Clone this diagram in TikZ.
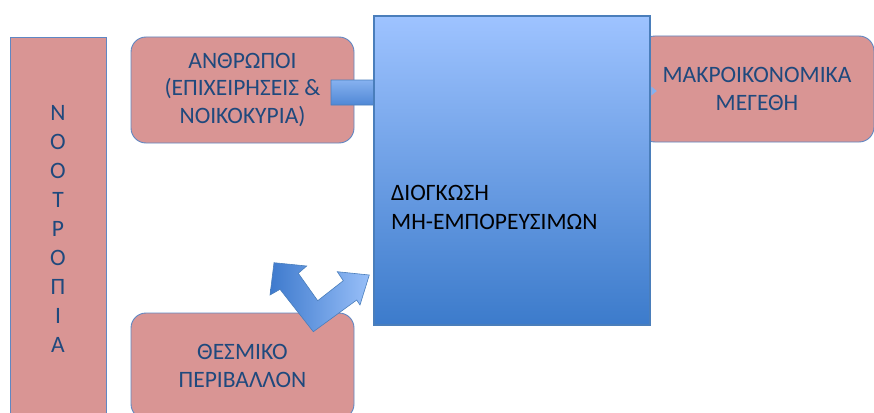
\documentclass[tikz,border=0pt]{standalone}
\usepackage{fontspec}
\setmainfont{Carlito}
\usetikzlibrary{arrows.meta}
\definecolor{pinkf}{RGB}{217,149,148}
\definecolor{edgeb}{RGB}{95,135,195}
\definecolor{txtb}{RGB}{31,73,125}
\definecolor{bigtop}{RGB}{158,195,255}
\definecolor{bigbot}{RGB}{60,123,203}
\definecolor{bigedge}{RGB}{74,126,187}
\definecolor{arrlight}{RGB}{152,191,248}
\definecolor{arrdark}{RGB}{62,122,205}
\begin{document}
\begin{tikzpicture}[x=1pt,y=-1pt,
  pinkbox/.style={draw=edgeb, line width=0.9pt, fill=pinkf, text=txtb, align=center,
    inner sep=0pt, font=\fontsize{23.5}{27.5}\selectfont},
  roundbox/.style={pinkbox, rounded corners=15pt, minimum width=223pt, minimum height=106pt},
  blockarrow/.style={draw=bigedge, line width=0.6pt}]
\path[use as bounding box] (0,0) rectangle (874,412);
\clip (0,0) rectangle (874,412);

\node[pinkbox, minimum width=96pt, minimum height=382pt,
  font=\fontsize{23.5}{29}\selectfont] (noot) at (58,228.5)
  {Ν\\Ο\\Ο\\Τ\\Ρ\\Ο\\Π\\Ι\\Α};
\node[roundbox] (anthr) at (242.5,90) {ΑΝΘΡΩΠΟΙ\\(ΕΠΙΧΕΙΡΗΣΕΙΣ \&\\ΝΟΙΚΟΚΥΡΙΑ)};
\node[roundbox] (thesm) at (242.5,366) {ΘΕΣΜΙΚΟ\\ΠΕΡΙΒΑΛΛΟΝ};
\node[roundbox, minimum width=234pt] (macro) at (757,89) {ΜΑΚΡΟΙΚΟΝΟΜΙΚΑ\\ΜΕΓΕΘΗ};

% arrow from ANTHROPOI into the big box (head hidden)
\path[blockarrow, top color=arrlight, bottom color=arrdark]
  (331,80) -- (392,80) -- (392,72) -- (405,92.5) -- (392,113) -- (392,105) -- (331,105) -- cycle;

\node[draw=bigedge, line width=2.6pt, top color=bigtop, bottom color=bigbot,
  minimum width=276pt, minimum height=309pt, inner sep=0pt] (big) at (512,170.5) {};
\node[anchor=west, align=left, inner sep=0pt, text=black,
  font=\fontsize{23.5}{29}\selectfont] (bigtxt) at (391,207) {ΔΙΟΓΚΩΣΗ\\ΜΗ-ΕΜΠΟΡΕΥΣΙΜΩΝ};

% small tip of arrow into macro box
\fill[arrlight!80!arrdark] (big.east) ++(0,-84) -- ++(5.5,4.5) -- ++(-5.5,4.5) -- cycle;

% double bent arrow
\path[blockarrow, left color=arrdark, right color=arrlight]
  (274,262.7) -- (306.7,266) -- (298.3,273.3) -- (317.7,300.7) -- (343.3,280.7)
  -- (337.3,271.7) -- (369.3,275) -- (360,305) -- (356.7,300) -- (313.3,331.7)
  -- (280,289.3) -- (270,295) -- cycle;
\end{tikzpicture}
\end{document}
